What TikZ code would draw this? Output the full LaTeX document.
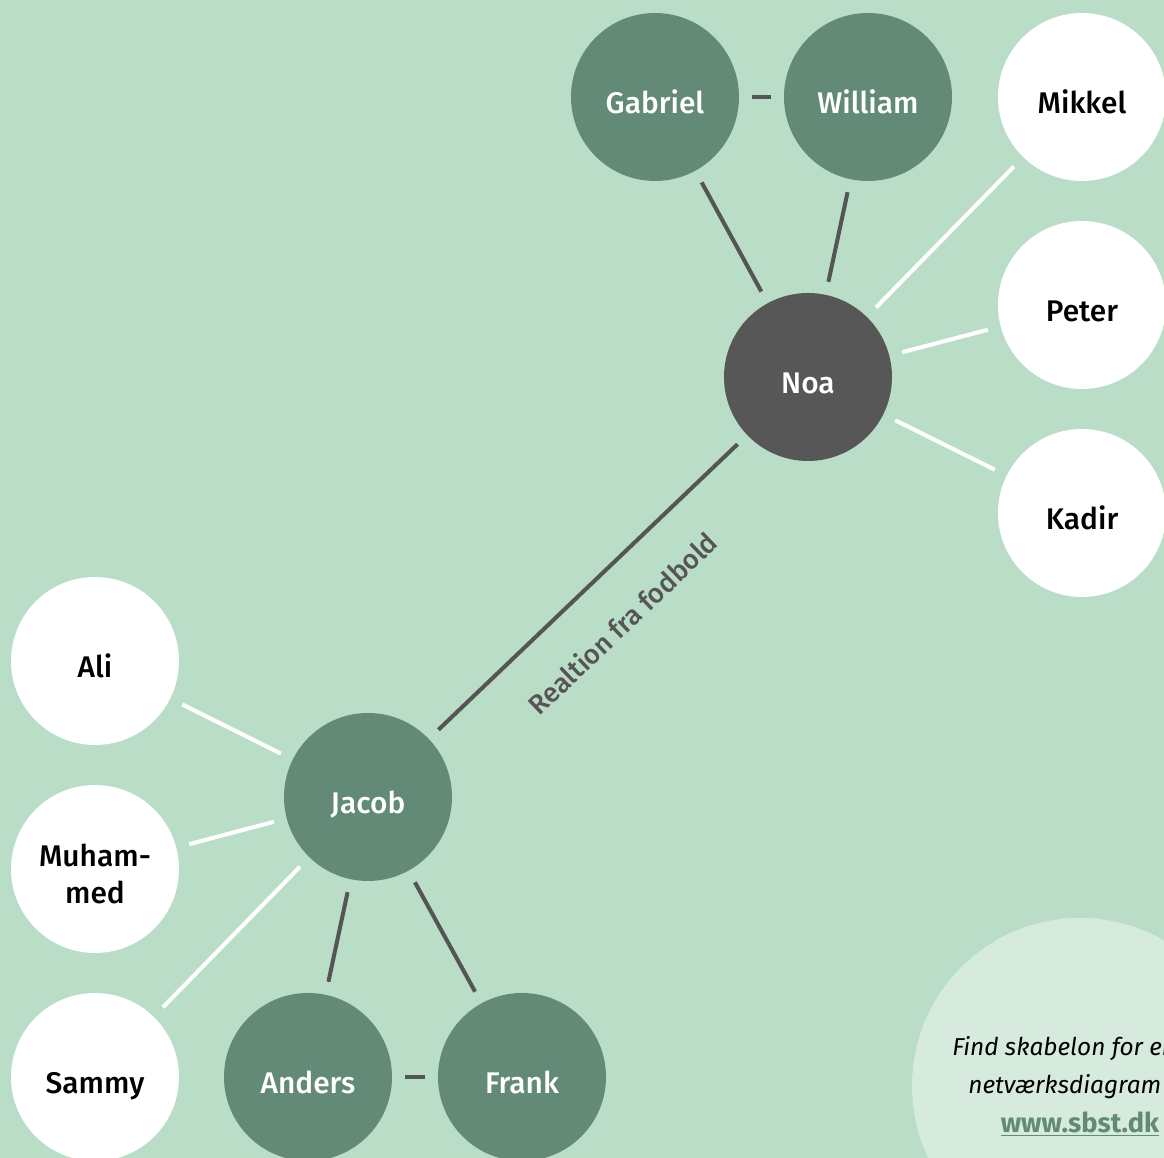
\documentclass[tikz,border=0pt]{standalone}
\usepackage{fontspec}
\setmainfont{Fira Sans}[BoldFont={Fira Sans Medium}]
\newfontface\linkfont{Fira Sans Bold}
\usetikzlibrary{
    positioning   % For relative placement of nodes
}

\definecolor{bgGreen}{HTML}{BADDC8}
\definecolor{nodeGreen}{HTML}{638A76}
\definecolor{nodeGrey}{HTML}{575757}
\definecolor{tieGrey}{HTML}{555555}
\definecolor{paleGreen}{HTML}{D6EADD}

\begin{document}
\begin{tikzpicture}[
    font=\fontsize{17}{21}\selectfont\bfseries,
    person/.style={circle, minimum size=3.36cm, inner sep=0pt, align=center,
                   text height=0.65cm, text depth=0pt},
    friend/.style={person, fill=white, text=black},
    family/.style={person, fill=nodeGreen, text=white},
    center/.style={person, fill=nodeGrey, text=white},
    tie/.style={line width=2.3pt, draw=tieGrey, shorten <=0.26cm, shorten >=0.26cm},
    weaktie/.style={tie, draw=white},
    note/.style={anchor=west, inner sep=0pt, font=\fontsize{13.9}{16}\selectfont\itshape}
]
    % --- Canvas ---
    \useasboundingbox (0,0) rectangle (23.28,23.16);
    \clip (0,0) rectangle (23.28,23.16);
    \fill[bgGreen] (0,0) rectangle (23.28,23.16);

    % --- Noa's network ---
    \node[center] (noa) at (16.16,15.62) {Noa};
    \node[family] (gabriel) at (13.10,21.22) {Gabriel};
    \node[family] (william) at (17.36,21.22) {William};
    \node[friend] (mikkel) at (21.64,21.22) {Mikkel};
    \node[friend] (peter) at (21.64,17.06) {Peter};
    \node[friend] (kadir) at (21.64,12.90) {Kadir};

    \draw[tie] (gabriel) -- (william);
    \draw[tie] (gabriel) -- (noa);
    \draw[tie] (william) -- (noa);
    \draw[weaktie] (mikkel) -- (noa);
    \draw[weaktie] (peter) -- (noa);
    \draw[weaktie] (kadir) -- (noa);

    % --- Jacob's network ---
    \node[family] (jacob) at (7.36,7.22) {Jacob};
    \node[friend] (ali) at (1.90,9.94) {Ali};
    \node[friend, text height=1.39cm] (muhammed) at (1.90,5.78) {Muham-\\med};
    \node[friend] (sammy) at (1.90,1.62) {Sammy};
    \node[family] (anders) at (6.16,1.62) {Anders};
    \node[family] (frank) at (10.44,1.62) {Frank};

    \draw[weaktie] (ali) -- (jacob);
    \draw[weaktie] (muhammed) -- (jacob);
    \draw[weaktie] (sammy) -- (jacob);
    \draw[tie] (anders) -- (jacob);
    \draw[tie] (frank) -- (jacob);
    \draw[tie] (anders) -- (frank);

    % --- The relation between the two ---
    \draw[tie] (jacob) -- (noa)
        node[midway, sloped, below=0.62cm, text=tieGrey,
             font=\fontsize{15.5}{18}\selectfont\bfseries] (relation) {Realtion fra fodbold};

    % --- Template note ---
    \fill[paleGreen] (21.60,1.44) circle (3.36cm);
    \node[note] (note1) at (19.04,2.18) {Find skabelon for en};
    \node[note] (note2) at (19.36,1.42) {netværksdiagram};
    \node[text=nodeGreen, font=\fontsize{15.5}{18}\selectfont\linkfont] (link) at (21.60,0.68) {\underline{www.sbst.dk}};
\end{tikzpicture}
\end{document}
